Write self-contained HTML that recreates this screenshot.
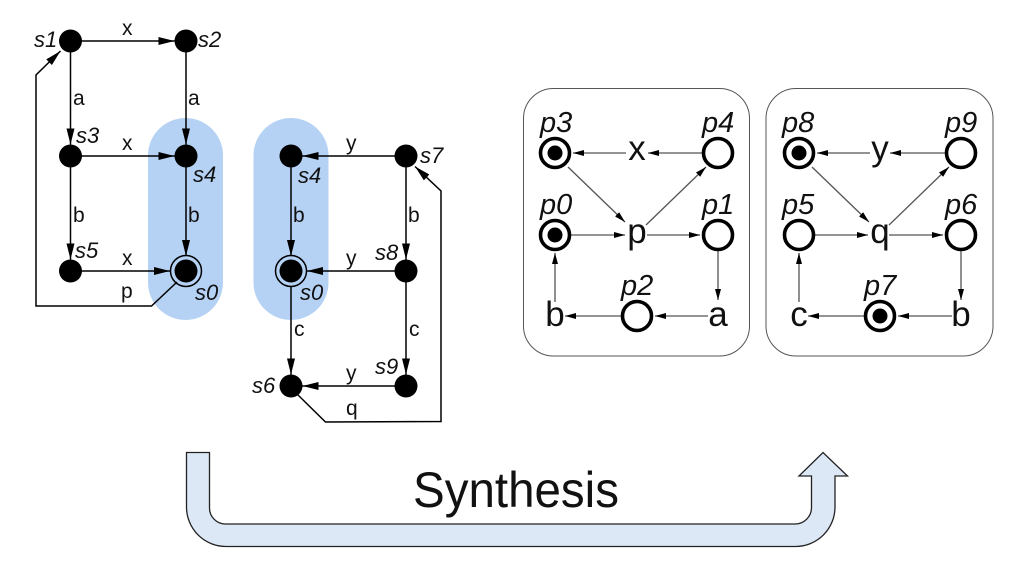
<!DOCTYPE html>
<html>
<head>
<meta charset="utf-8">
<style>
html,body{margin:0;padding:0;background:#fff;width:1024px;height:576px;overflow:hidden}
svg{display:block}
text{font-family:"Liberation Sans",Arial,sans-serif;fill:#111}
.i{font-style:italic;font-size:22px}
.l{font-size:21px}
.pi{font-style:italic;font-size:29px}
.t{font-size:35px;text-anchor:middle}
.e{stroke:#000;stroke-width:1.5;fill:none}
.a{stroke:#555;stroke-width:1.3;fill:none}
.o{fill:#fff;stroke:#000;stroke-width:3.6}
</style>
</head>
<body>
<svg width="1024" height="576" viewBox="0 0 1024 576" xmlns="http://www.w3.org/2000/svg">
<defs>
<marker id="m" markerUnits="userSpaceOnUse" markerWidth="17" markerHeight="10" refX="16" refY="5" orient="auto"><path d="M0 1 L16 5 L0 9 Z" fill="#000"/></marker>
<marker id="n" markerUnits="userSpaceOnUse" markerWidth="12" markerHeight="8" refX="11" refY="4" orient="auto"><path d="M0 1 L11 4 L0 7 Z" fill="#000"/></marker>
</defs>

<!-- capsules -->
<rect x="148" y="118" width="75" height="202" rx="37.5" fill="#b5d2f5"/>
<rect x="253.5" y="118" width="75" height="202" rx="37.5" fill="#b5d2f5"/>

<!-- left graph edges -->
<path class="e" d="M81 41H174.5" marker-end="url(#m)"/>
<path class="e" d="M70.5 52V144.500" marker-end="url(#m)"/>
<path class="e" d="M186 52V144.500" marker-end="url(#m)"/>
<path class="e" d="M81 156H174.500" marker-end="url(#m)"/>
<path class="e" d="M70.500 166V259.500" marker-end="url(#m)"/>
<path class="e" d="M186 166V256" marker-end="url(#m)"/>
<path class="e" d="M81 271H170" marker-end="url(#m)"/>
<path class="e" d="M177 282L151.500 306H36V75L60.500 51" marker-end="url(#m)"/>

<!-- middle graph edges -->
<path class="e" d="M396 156H302.500" marker-end="url(#m)"/>
<path class="e" d="M406 166V259.500" marker-end="url(#m)"/>
<path class="e" d="M291 166V256" marker-end="url(#m)"/>
<path class="e" d="M396 271H307" marker-end="url(#m)"/>
<path class="e" d="M406 281V374.500" marker-end="url(#m)"/>
<path class="e" d="M291 287V374.500" marker-end="url(#m)"/>
<path class="e" d="M396 386H302.500" marker-end="url(#m)"/>
<path class="e" d="M298 395L325.500 422L441 421.500V191L415 166.500" marker-end="url(#m)"/>

<!-- left graph nodes -->
<g fill="#000">
<circle cx="70.500" cy="41" r="11.500"/><circle cx="186" cy="41" r="11.500"/>
<circle cx="70.500" cy="156" r="11.500"/><circle cx="186" cy="156" r="11.500"/>
<circle cx="70.500" cy="271" r="11.500"/><circle cx="186" cy="271" r="11.500"/>
<circle cx="291" cy="156" r="11.500"/><circle cx="291" cy="271" r="11.500"/>
<circle cx="291" cy="386" r="11.500"/><circle cx="406" cy="156" r="11.500"/>
<circle cx="406" cy="271" r="11.500"/><circle cx="406" cy="386" r="11.500"/>
</g>
<circle cx="186" cy="271" r="15.500" fill="none" stroke="#000" stroke-width="1.500"/>
<circle cx="291" cy="271" r="15.500" fill="none" stroke="#000" stroke-width="1.500"/>

<!-- state labels -->
<text class="i" x="34" y="47">s1</text>
<text class="i" x="198" y="47">s2</text>
<text class="i" x="76" y="143">s3</text>
<text class="i" x="193" y="182">s4</text>
<text class="i" x="75" y="258">s5</text>
<text class="i" x="195" y="300">s0</text>
<text class="i" x="298" y="183">s4</text>
<text class="i" x="300" y="300">s0</text>
<text class="i" x="252" y="393">s6</text>
<text class="i" x="420" y="163">s7</text>
<text class="i" x="375" y="260">s8</text>
<text class="i" x="375" y="374">s9</text>

<!-- edge labels -->
<text class="l" x="122" y="35">x</text>
<text class="l" x="73" y="105">a</text>
<text class="l" x="188" y="105">a</text>
<text class="l" x="122" y="150">x</text>
<text class="l" x="73" y="222">b</text>
<text class="l" x="188" y="222">b</text>
<text class="l" x="122" y="265">x</text>
<text class="l" x="121" y="298">p</text>
<text class="l" x="346" y="150">y</text>
<text class="l" x="293" y="222">b</text>
<text class="l" x="408" y="222">b</text>
<text class="l" x="346" y="265">y</text>
<text class="l" x="294" y="336">c</text>
<text class="l" x="409" y="336">c</text>
<text class="l" x="346" y="380">y</text>
<text class="l" x="346" y="415">q</text>

<!-- panels -->
<rect x="523.500" y="88.500" width="226" height="267.500" rx="30" fill="#fff" stroke="#555" stroke-width="1"/>
<rect x="766" y="88.500" width="227" height="267.500" rx="30" fill="#fff" stroke="#555" stroke-width="1"/>

<!-- panel 1 arcs -->
<path class="a" d="M703 153H648" marker-end="url(#n)"/>
<path class="a" d="M626 153H573" marker-end="url(#n)"/>
<path class="a" d="M568 167L625 222" marker-end="url(#n)"/>
<path class="a" d="M646 225L706 167" marker-end="url(#n)"/>
<path class="a" d="M570 235H625" marker-end="url(#n)"/>
<path class="a" d="M647 235H700" marker-end="url(#n)"/>
<path class="a" d="M718 250V300" marker-end="url(#n)"/>
<path class="a" d="M708 316H655" marker-end="url(#n)"/>
<path class="a" d="M622 316H565" marker-end="url(#n)"/>
<path class="a" d="M555 302V253" marker-end="url(#n)"/>

<!-- panel 2 arcs -->
<path class="a" d="M945 153H890" marker-end="url(#n)"/>
<path class="a" d="M870 153H817" marker-end="url(#n)"/>
<path class="a" d="M812 167L869 222" marker-end="url(#n)"/>
<path class="a" d="M889 225L949 167" marker-end="url(#n)"/>
<path class="a" d="M814 235H868" marker-end="url(#n)"/>
<path class="a" d="M889 235H943" marker-end="url(#n)"/>
<path class="a" d="M961 250V300" marker-end="url(#n)"/>
<path class="a" d="M952 316H898" marker-end="url(#n)"/>
<path class="a" d="M865 316H808" marker-end="url(#n)"/>
<path class="a" d="M799 302V253" marker-end="url(#n)"/>

<!-- panel 1 places -->
<circle class="o" cx="555" cy="153" r="14.500"/><circle cx="555" cy="153" r="7.500"/>
<circle class="o" cx="718" cy="153" r="14.500"/>
<circle class="o" cx="555" cy="235" r="14.500"/><circle cx="555" cy="235" r="7.500"/>
<circle class="o" cx="718" cy="235" r="14.500"/>
<circle class="o" cx="637" cy="316" r="14.500"/>

<!-- panel 2 places -->
<circle class="o" cx="799" cy="153" r="14.500"/><circle cx="799" cy="153" r="7.500"/>
<circle class="o" cx="961" cy="153" r="14.500"/>
<circle class="o" cx="799" cy="235" r="14.500"/>
<circle class="o" cx="961" cy="235" r="14.500"/>
<circle class="o" cx="880" cy="316" r="14.500"/><circle cx="880" cy="316" r="7.500"/>

<!-- panel labels -->
<text class="pi" x="540" y="132">p3</text>
<text class="pi" x="702" y="132">p4</text>
<text class="pi" x="540" y="214">p0</text>
<text class="pi" x="702" y="214">p1</text>
<text class="pi" x="621" y="295">p2</text>
<text class="pi" x="782" y="132">p8</text>
<text class="pi" x="945" y="132">p9</text>
<text class="pi" x="782" y="214">p5</text>
<text class="pi" x="945" y="214">p6</text>
<text class="pi" x="864" y="295">p7</text>

<text class="t" x="637" y="160">x</text>
<text class="t" x="637" y="243">p</text>
<text class="t" x="718" y="326">a</text>
<text class="t" x="555" y="326">b</text>
<text class="t" x="880" y="160">y</text>
<text class="t" x="880" y="243">q</text>
<text class="t" x="961" y="326">b</text>
<text class="t" x="799" y="326">c</text>

<!-- big arrow -->
<path d="M186.500 452.500H209.500V508A16 16 0 0 0 225.500 524H795A16.500 16.500 0 0 0 811.500 507.500V476H799L823 452.500L847.500 476H835V507A39.500 39.500 0 0 1 795.500 546.500H226A39.500 39.500 0 0 1 186.500 507Z" fill="#dde8f6" stroke="#222" stroke-width="1.300"/>

<text x="413" y="507" font-size="50" textLength="206" lengthAdjust="spacingAndGlyphs" style="fill:#111">Synthesis</text>
</svg>
</body>
</html>
